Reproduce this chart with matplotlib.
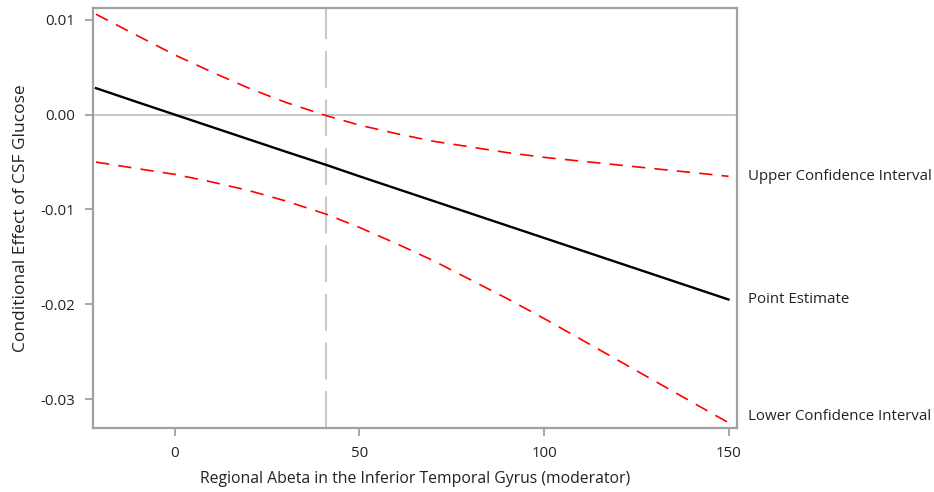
import matplotlib
matplotlib.use("Agg")
import matplotlib.pyplot as plt

# values
moderator = [-21.4, -10, 0, 10, 20, 30, 41, 50, 60, 70, 80, 90, 100, 110, 120, 130, 140, 150]
point_est = [0.0028, 0.0013, 0.0, -0.0013, -0.0026, -0.0039, -0.0053, -0.0065, -0.0078,
             -0.0091, -0.0104, -0.0117, -0.0130, -0.0143, -0.0156, -0.0169, -0.0182, -0.0195]
upper_ci = [0.0106, 0.0083, 0.0063, 0.0045, 0.0028, 0.0013, -0.0001, -0.0011, -0.0020,
            -0.0028, -0.0034, -0.0040, -0.0045, -0.0049, -0.0053, -0.0057, -0.0061, -0.0065]
lower_ci = [-0.0050, -0.0057, -0.0063, -0.0071, -0.0080, -0.0091, -0.0105, -0.0119, -0.0136,
            -0.0154, -0.0174, -0.0194, -0.0215, -0.0237, -0.0259, -0.0281, -0.0303, -0.0325]
jn_point = 41  # Johnson-Neyman boundary
x_ticks = [0, 50, 100, 150]
y_ticks = [0.01, 0.0, -0.01, -0.02, -0.03]
y_ticklabels = ["0.01", "0.00", "-0.01", "-0.02", "-0.03"]

plt.rcParams['font.family'] = ['Open Sans', 'DejaVu Sans']

fig = plt.figure(figsize=(9.34, 4.92), dpi=100)
ax = fig.add_axes([0.0996, 0.130, 0.6895, 0.854])

ax.axhline(0, color="#c4c4c4", lw=1.3, zorder=1)
ax.axvline(jn_point, color="#c8c8c8", lw=1.4, linestyle=(0, (19, 6)), zorder=1)

ax.plot(moderator, upper_ci, color="#ff0000", lw=1.2, linestyle=(0, (8, 5.5)), zorder=2)
ax.plot(moderator, lower_ci, color="#ff0000", lw=1.2, linestyle=(0, (8, 5.5)), zorder=2)
ax.plot(moderator, point_est, color="black", lw=1.7, zorder=3)

ax.set_xlim(-22.2, 152.3)
ax.set_ylim(-0.03306, 0.01127)
ax.set_xticks(x_ticks)
ax.set_yticks(y_ticks)
ax.set_yticklabels(y_ticklabels)

for s in ax.spines.values():
    s.set_color("#a0a0a0")
    s.set_linewidth(1.6)
ax.tick_params(colors="#a0a0a0", width=1.3, length=6, labelcolor="#222222", labelsize=10.8, pad=7)

ax.set_xlabel("Regional Abeta in the Inferior Temporal Gyrus (moderator)", fontsize=11.3,
              color="#222222", labelpad=7)
ax.set_ylabel("Conditional Effect of CSF Glucose", fontsize=12.5, color="#222222", labelpad=8)

lab_kw = dict(xycoords="data", textcoords="offset points", fontsize=10.8, color="#222222",
              va="center", ha="left", annotation_clip=False)
ax.annotate("Upper Confidence Interval", xy=(150, upper_ci[-1]), xytext=(14, 0), **lab_kw)
ax.annotate("Point Estimate", xy=(150, point_est[-1]), xytext=(14, 0), **lab_kw)
ax.annotate("Lower Confidence Interval", xy=(150, -0.0318), xytext=(14, 0), **lab_kw)

fig.savefig("out.png", dpi=100)
